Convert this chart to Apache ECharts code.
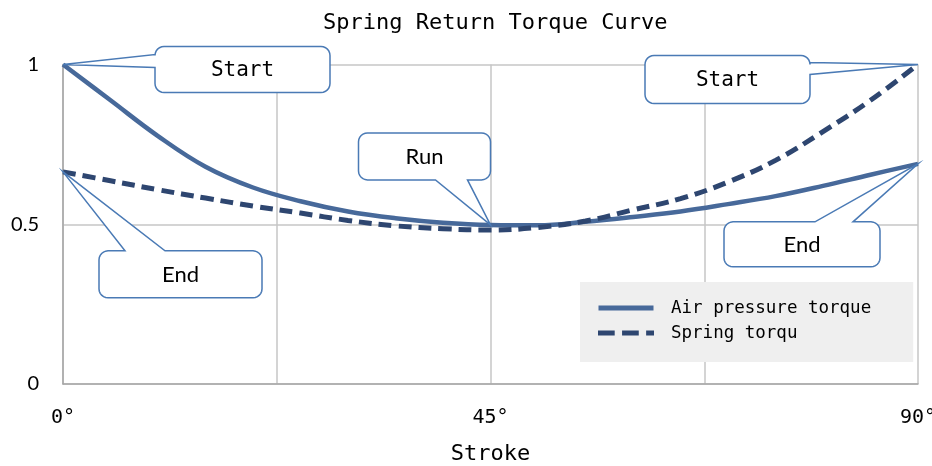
<!DOCTYPE html>
<html>
<head>
<meta charset="utf-8">
<script src="https://cdn.jsdelivr.net/npm/echarts@6/dist/echarts.min.js"></script>
<style>
html,body{margin:0;padding:0;background:#fff;}
#c{width:932px;height:466px;}
</style>
</head>
<body>
<div id="c"></div>
<script>
// ---- data ----
var strokeDeg = [0, 5, 10, 15, 20, 25, 30, 35, 40, 45, 50, 55, 60, 65, 70, 75, 80, 85, 90];
var airTorque = [1.0, 0.888, 0.776, 0.680, 0.615, 0.572, 0.540, 0.519, 0.505, 0.498, 0.497, 0.508, 0.523, 0.540, 0.563, 0.588, 0.620, 0.655, 0.689];
var springTorque = [0.664, 0.636, 0.608, 0.582, 0.557, 0.535, 0.512, 0.495, 0.486, 0.482, 0.490, 0.510, 0.545, 0.580, 0.632, 0.700, 0.790, 0.888, 1.0];
var seriesNames = ['Air pressure torque', 'Spring torqu'];
var xTickLabels = ['0°', '45°', '90°'];
var yTickLabels = ['0', '0.5', '1'];
var calloutTexts = ['Start', 'Start', 'Run', 'End', 'End'];
var calloutSeries = [0, 1, 0, 1, 0];      // which series the callout points at
var calloutIndex = [0, 18, 9, 0, 18];     // which data point

var chart = echarts.init(document.getElementById('c'), null, {renderer: 'canvas'});

function pairs(xs, ys) { return xs.map(function (x, i) { return [x, ys[i]]; }); }

var mono = 'DejaVu Sans Mono';
var solidIcon = 'path://M0,0 L55,0 L55,5 L0,5 Z';
var dashIcon = 'path://M0,0 L17,0 L17,5 L0,5 Z M24.5,0 L41.5,0 L41.5,5 L24.5,5 Z M49,0 L57,0 L57,5 L49,5 Z';

var option = {
  backgroundColor: '#ffffff',
  animation: false,
  title: {
    text: 'Spring Return Torque Curve',
    left: 318, top: 7,
    textStyle: {fontFamily: mono, fontSize: 22, fontWeight: 'normal', color: '#000'}
  },
  grid: {left: 63, right: 14, top: 64.5, bottom: 82, containLabel: false, outerBoundsMode: 'none'},
  legend: {
    orient: 'vertical', left: 580, top: 282,
    backgroundColor: '#efefef',
    padding: [17, 42, 20, 18],
    itemWidth: 56, itemHeight: 5, itemGap: 7,
    textStyle: {fontFamily: mono, fontSize: 17.5, color: '#000', padding: [0, 0, 0, 12]},
    data: [{name: seriesNames[0], icon: solidIcon}, {name: seriesNames[1], icon: dashIcon}]
  },
  xAxis: {
    type: 'value', min: 0, max: 90, interval: 22.5,
    name: 'Stroke', nameLocation: 'middle', nameGap: 59,
    nameTextStyle: {fontFamily: mono, fontSize: 22, color: '#000'},
    axisLine: {show: true, lineStyle: {color: '#a6a6a6', width: 1.5}},
    axisTick: {show: false},
    axisLabel: {
      margin: 24, fontFamily: mono, fontSize: 20, color: '#000',
      formatter: function (v) { return v % 45 === 0 ? xTickLabels[v / 45] : ''; }
    },
    splitLine: {show: true, lineStyle: {color: '#c6c6c6', width: 1.5}}
  },
  yAxis: {
    type: 'value', min: 0, max: 1, interval: 0.5,
    axisLine: {show: true, lineStyle: {color: '#a6a6a6', width: 1.5}},
    axisTick: {show: false},
    axisLabel: {
      margin: 24, fontFamily: 'Lato', fontSize: 20, color: '#000',
      formatter: function (v) { return yTickLabels[Math.round(v * 2)]; }
    },
    splitLine: {show: true, lineStyle: {color: '#c6c6c6', width: 1.5}}
  },
  series: [
    {
      name: seriesNames[0], type: 'line', data: pairs(strokeDeg, airTorque),
      smooth: 0.4, symbol: 'none', showSymbol: false,
      lineStyle: {color: '#47699a', width: 4.5},
      itemStyle: {color: '#47699a'}
    },
    {
      name: seriesNames[1], type: 'line', data: pairs(strokeDeg, springTorque),
      smooth: 0.4, symbol: 'none', showSymbol: false,
      lineStyle: {color: '#2e4670', width: 5, type: [13, 7]},
      itemStyle: {color: '#2e4670'}
    }
  ]
};
chart.setOption(option);

// ---- callouts (box geometry relative to the pointed data point) ----
var calloutBoxes = [
  {dx: 92, dy: -18, w: 175, h: 46, side: 'left', a1: -10, a2: 3, font: mono, size: 21},
  {dx: -273, dy: -9, w: 165, h: 48, side: 'right', a1: -2, a2: 10, font: mono, size: 21},
  {dx: -132, dy: -92, w: 132, h: 47, side: 'bottom', a1: -55, a2: -23, font: 'Lato', size: 22},
  {dx: 36, dy: 79, w: 163, h: 47, side: 'top', a1: 62, a2: 102, font: 'Lato', size: 22},
  {dx: -194, dy: 58, w: 156, h: 45, side: 'top', a1: -103, a2: -65, font: 'Lato', size: 22}
];

function arc(pts, cx, cy, r, a0, a1) {
  var n = 6;
  for (var k = 0; k <= n; k++) {
    var a = (a0 + (a1 - a0) * k / n) * Math.PI / 180;
    pts.push([cx + r * Math.cos(a), cy + r * Math.sin(a)]);
  }
}

function calloutPoints(tx, ty, b) {
  var x = tx + b.dx, y = ty + b.dy, w = b.w, h = b.h, r = 9;
  var p = [];
  arc(p, x + r, y + r, r, 180, 270);
  if (b.side === 'top') { p.push([tx + b.a1, y], [tx, ty], [tx + b.a2, y]); }
  arc(p, x + w - r, y + r, r, 270, 360);
  if (b.side === 'right') { p.push([x + w, ty + b.a1], [tx, ty], [x + w, ty + b.a2]); }
  arc(p, x + w - r, y + h - r, r, 0, 90);
  if (b.side === 'bottom') { p.push([tx + b.a2, y + h], [tx, ty], [tx + b.a1, y + h]); }
  arc(p, x + r, y + h - r, r, 90, 180);
  if (b.side === 'left') { p.push([x, ty + b.a2], [tx, ty], [x, ty + b.a1]); }
  return p;
}

var seriesValues = [airTorque, springTorque];
var graphics = [];
calloutTexts.forEach(function (t, i) {
  var idx = calloutIndex[i];
  var pt = chart.convertToPixel({gridIndex: 0}, [strokeDeg[idx], seriesValues[calloutSeries[i]][idx]]);
  var b = calloutBoxes[i];
  graphics.push({
    type: 'polygon', z: 100,
    shape: {points: calloutPoints(pt[0], pt[1], b)},
    style: {fill: '#ffffff', stroke: '#4a7ab5', lineWidth: 1.5}
  });
  graphics.push({
    type: 'text', z: 101,
    x: pt[0] + b.dx + b.w / 2, y: pt[1] + b.dy + b.h / 2 + 1,
    style: {text: t, fontFamily: b.font, fontSize: b.size, fill: '#000', align: 'center', verticalAlign: 'middle'}
  });
});
chart.setOption({graphic: graphics});
</script>
</body>
</html>
